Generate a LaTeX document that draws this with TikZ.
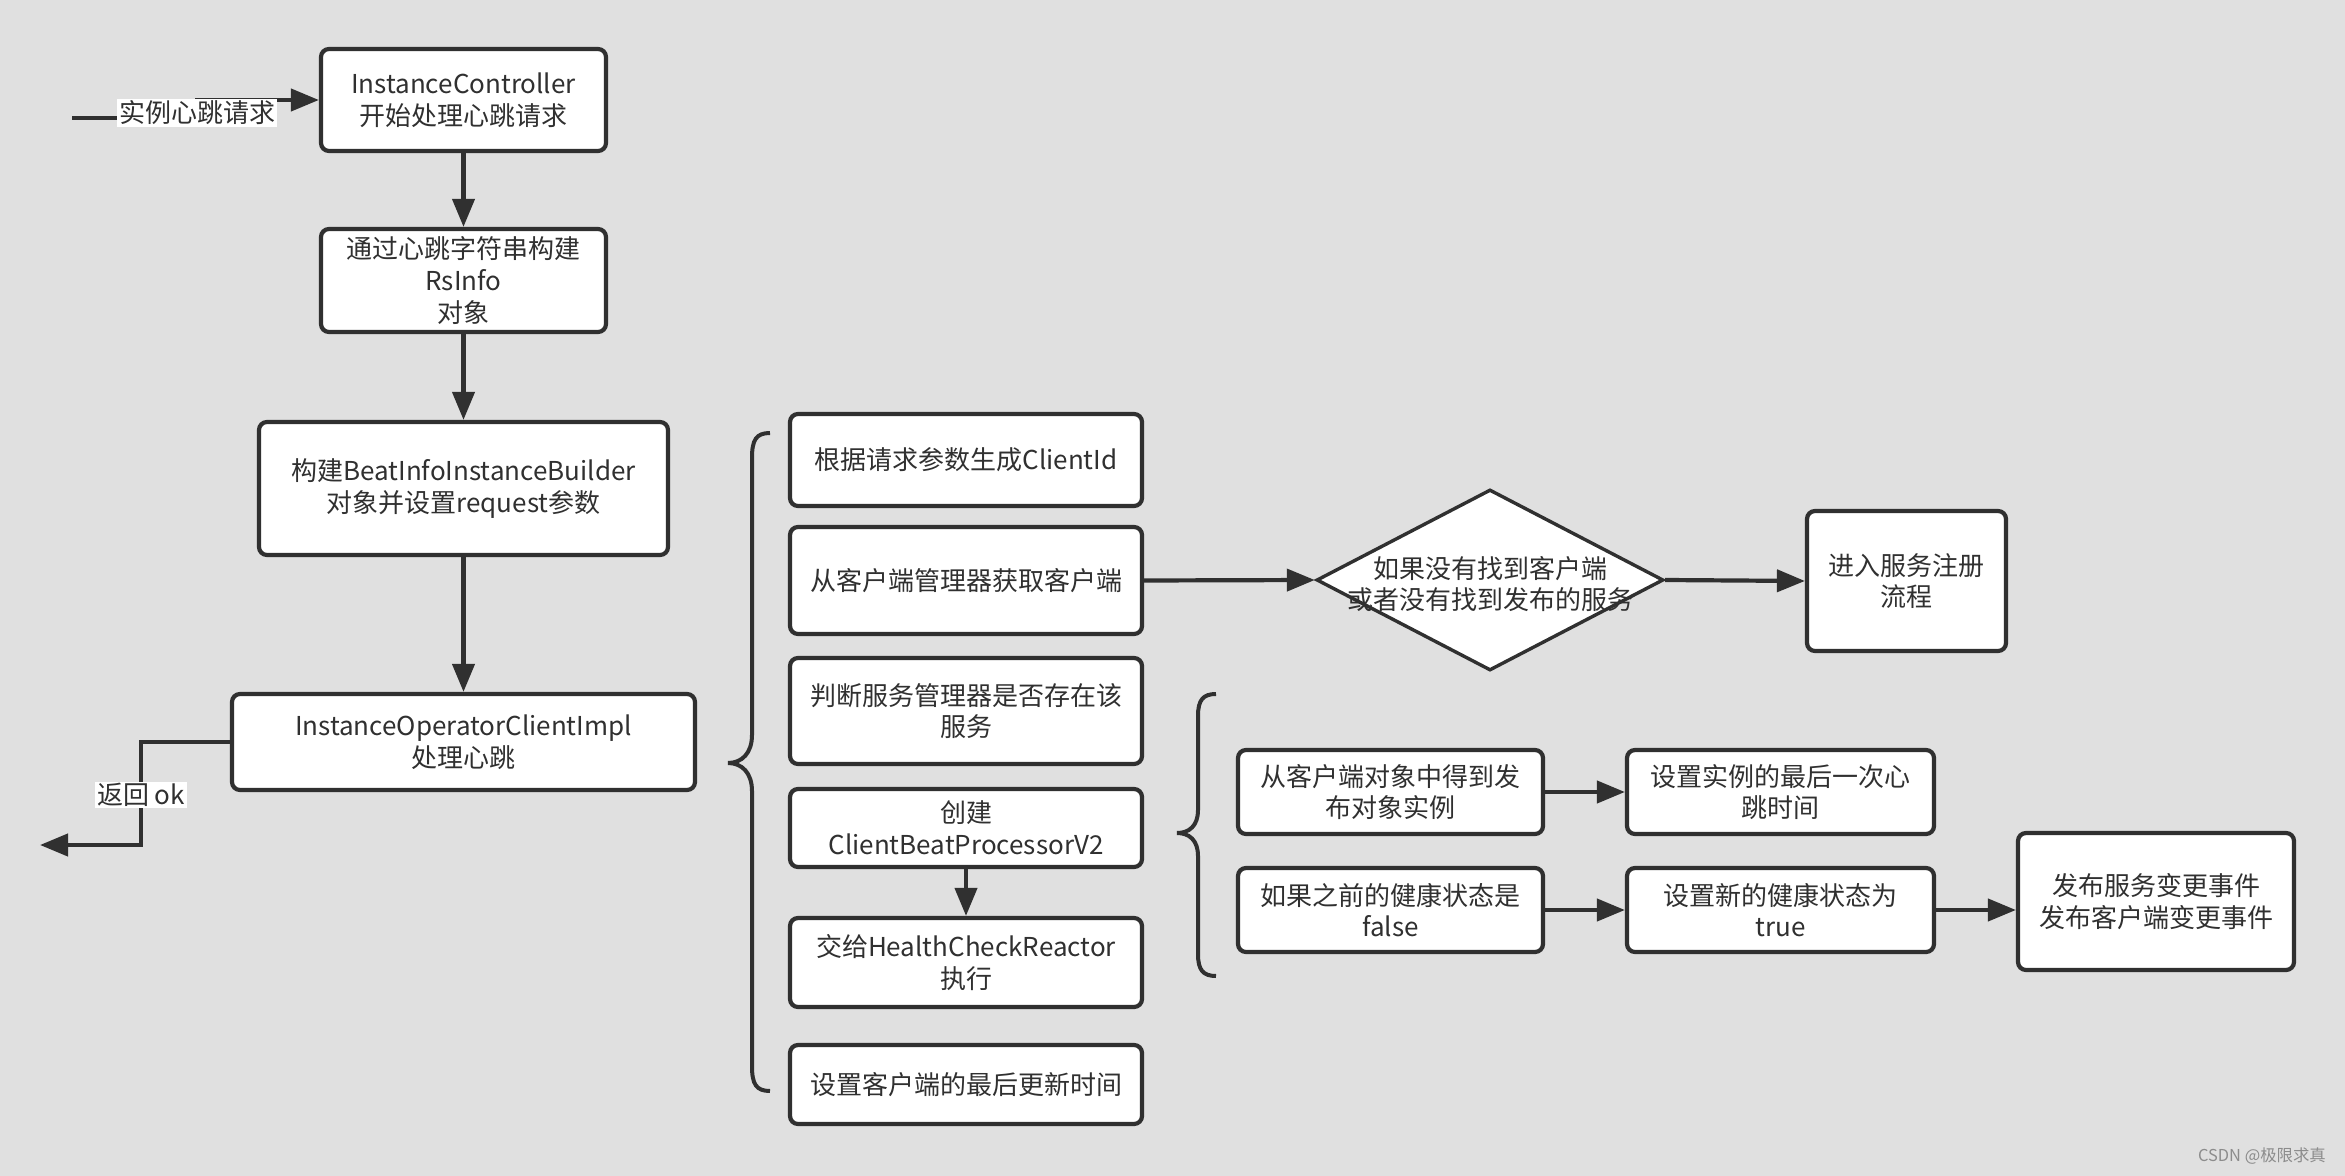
\documentclass[tikz,border=0pt]{standalone}
\usepackage{fontspec}
\setmainfont{Noto Sans CJK SC}
\usetikzlibrary{shapes.geometric,arrows.meta}
\definecolor{bg}{RGB}{224,224,224}
\definecolor{ink}{RGB}{48,48,48}
\begin{document}
\begin{tikzpicture}[x=0.5pt,y=-0.5pt,
  txt/.style={text=ink, font=\fontsize{13pt}{15.8pt}\selectfont},
  box/.style={txt, draw=ink, line width=2.1pt, fill=white, rounded corners=4pt, align=center, inner sep=2pt},
  conn/.style={draw=ink, line width=2.1pt, -{Triangle[length=14pt,width=11pt]}},
  plain/.style={draw=ink, line width=2pt},
  lbl/.style={txt, fill=white, inner sep=0.8pt}]
\fill[bg] (0,0) rectangle (2345,1176);
\useasboundingbox (0,0) rectangle (2345,1176);

% left column
\node[box, minimum width=142.5pt, minimum height=51pt] (b1) at (463.5,100) {InstanceController\\开始处理心跳请求};
\node[box, minimum width=142.5pt, minimum height=51.5pt] (b2) at (463.5,280.5) {通过心跳字符串构建\\RsInfo\\对象};
\node[box, minimum width=204.5pt, minimum height=66.5pt] (b3) at (463.5,488.5) {构建BeatInfoInstanceBuilder\\对象并设置request参数};
\node[box, minimum width=231.5pt, minimum height=48pt] (b4) at (463.5,742) {InstanceOperatorClientImpl\\处理心跳};

\draw[conn] (b1) -- (b2);
\draw[conn] (b2) -- (b3);
\draw[conn] (b3) -- (b4);

% input
\coordinate (instart) at (72,118);
\coordinate (inmid) at (197,113);
\draw[conn] (instart) -| (inmid) |- (b1.west);
\node[lbl] (inlbl) at (inmid) {实例心跳请求};

% return
\coordinate (retmid) at (141,795);
\coordinate (retend) at (40,845);
\draw[conn] (b4.west) -| (retmid) |- (retend);
\node[lbl] (retlbl) at (retmid) {返回 ok};

% big brace
\draw[plain] (770,433) .. controls (756,433) and (752,440) .. (752,458) -- (752,735)
  .. controls (752,753) and (742,763) .. (728,763)
  .. controls (742,763) and (752,773) .. (752,791) -- (752,1066)
  .. controls (752,1084) and (756,1091) .. (770,1091);

% middle column
\node[box, minimum width=176pt, minimum height=46pt] (m1) at (966,460) {根据请求参数生成ClientId};
\node[box, minimum width=176pt, minimum height=53.5pt] (m2) at (966,580.5) {从客户端管理器获取客户端};
\node[box, minimum width=176pt, minimum height=53pt] (m3) at (966,711) {判断服务管理器是否存在该\\服务};
\node[box, minimum width=176pt, minimum height=39pt] (m4) at (966,828) {创建\\ClientBeatProcessorV2};
\node[box, minimum width=176pt, minimum height=44.5pt] (m5) at (966,962.5) {交给HealthCheckReactor\\执行};
\node[box, minimum width=176pt, minimum height=39.5pt] (m6) at (966,1084.5) {设置客户端的最后更新时间};
\draw[conn] (m4) -- (m5);

% decision
\node[diamond, draw=ink, line width=1.7pt, fill=white, inner sep=0pt, minimum width=173.5pt, minimum height=90.5pt] (dec) at (1490,580) {};
\node[txt, align=center] (dectxt) at (1490,584) {如果没有找到客户端\\或者没有找到发布的服务};
\node[box, minimum width=99.5pt, minimum height=70pt] (reg) at (1906.5,581) {进入服务注册\\流程};
\draw[conn] (m2.east) -- (dec.west);
\draw[conn] (dec.east) -- (reg.west);

% second brace
\draw[plain] (1216,694) .. controls (1203,694) and (1198,700) .. (1198,716) -- (1198,810)
  .. controls (1198,826) and (1189,833) .. (1177,833)
  .. controls (1189,833) and (1198,840) .. (1198,856) -- (1198,954)
  .. controls (1198,970) and (1203,976) .. (1216,976);

% right group
\node[box, minimum width=152.5pt, minimum height=42pt] (c1) at (1390.5,792) {从客户端对象中得到发\\布对象实例};
\node[box, minimum width=153.5pt, minimum height=42pt] (c2) at (1780.5,792) {设置实例的最后一次心\\跳时间};
\node[box, minimum width=152.5pt, minimum height=42pt] (c3) at (1390.5,910) {如果之前的健康状态是\\false};
\node[box, minimum width=153.5pt, minimum height=42pt] (c4) at (1780.5,910) {设置新的健康状态为\\true};
\node[box, minimum width=138pt, minimum height=68.5pt] (c5) at (2156,901.5) {发布服务变更事件\\发布客户端变更事件};
\draw[conn] (c1) -- (c2);
\draw[conn] (c3) -- (c4);
\draw[conn] (c4.east) -- (c4.east -| c5.west);

% watermark
\node[text=black!45, font=\fontsize{8.2pt}{10pt}\selectfont] (wm) at (2262,1156) {CSDN @极限求真};
\end{tikzpicture}
\end{document}
